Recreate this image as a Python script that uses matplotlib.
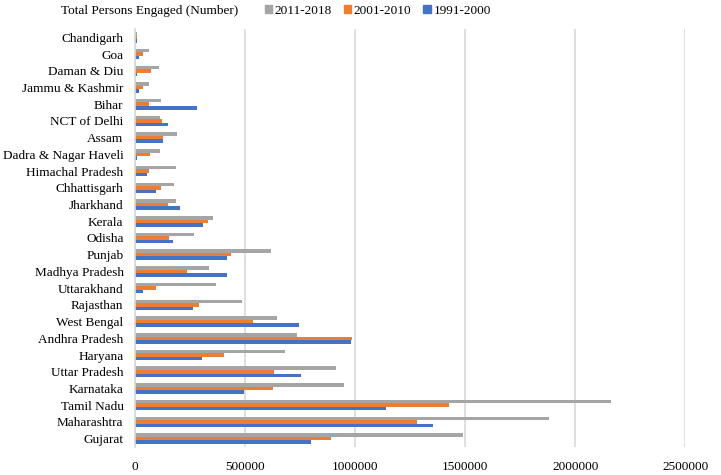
import matplotlib
matplotlib.use("Agg")
import matplotlib.pyplot as plt
import numpy as np
from matplotlib.patches import Patch

states = ["Chandigarh", "Goa", "Daman & Diu", "Jammu & Kashmir", "Bihar", "NCT of Delhi",
          "Assam", "Dadra & Nagar Haveli", "Himachal Pradesh", "Chhattisgarh", "Jharkhand",
          "Kerala", "Odisha", "Punjab", "Madhya Pradesh", "Uttarakhand", "Rajasthan",
          "West Bengal", "Andhra Pradesh", "Haryana", "Uttar Pradesh", "Karnataka",
          "Tamil Nadu", "Maharashtra", "Gujarat"]
# values read top-to-bottom
s2011_2018 = [12000, 64000, 109000, 64000, 120000, 114000, 191000, 117000, 186000, 179000,
              186000, 357000, 268000, 618000, 336000, 370000, 489000, 645000, 738000, 683000,
              916000, 951000, 2163000, 1880000, 1489000]
s2001_2010 = [9000, 36000, 73000, 36000, 64000, 123000, 127000, 68000, 64000, 120000,
              153000, 332000, 157000, 439000, 236000, 95000, 292000, 538000, 988000, 406000,
              633000, 627000, 1425000, 1280000, 892000]
s1991_2000 = [10000, 18000, 10000, 18000, 283000, 150000, 127000, 10000, 56000, 97000,
              204000, 312000, 173000, 421000, 421000, 36000, 265000, 745000, 983000, 306000,
              753000, 497000, 1139000, 1354000, 800000]
xticks = [0, 500000, 1000000, 1500000, 2000000, 2500000]

plt.rcParams['font.family'] = ['Liberation Serif', 'DejaVu Serif']
fs = 9.5

fig = plt.figure(figsize=(7.21, 4.75), dpi=100)
ax = fig.add_axes([134.7 / 721, 1 - 447 / 475, (685.3 - 134.7) / 721, (447 - 29) / 475])

n = len(states)
y = np.arange(n)[::-1]
h = 0.21
c_gray, c_orange, c_blue = "#A5A5A5", "#ED7D31", "#4472C4"
ax.barh(y + h, s2011_2018, height=h, color=c_gray, zorder=3)
ax.barh(y, s2001_2010, height=h, color=c_orange, zorder=3)
ax.barh(y - h, s1991_2000, height=h, color=c_blue, zorder=3)

ax.set_ylim(-0.5, n - 0.5)
ax.set_xlim(0, 2500000)
ax.set_yticks(y)
ax.set_yticklabels(states, fontsize=fs)
ax.set_xticks(xticks)
ax.set_xticklabels([str(v) for v in xticks], fontsize=fs)
ax.tick_params(axis='y', length=0, pad=8)
ax.tick_params(axis='x', length=0, pad=10)
ax.grid(axis='x', color='#D9D9D9', linewidth=1.2, zorder=0)
for sp in ['top', 'right', 'bottom']:
    ax.spines[sp].set_visible(False)
ax.spines['left'].set_color('#D9D9D9')
ax.spines['left'].set_linewidth(1.2)
ax.spines['left'].set_zorder(4)

fig.text(60.7 / 721, 1 - 11 / 475, "Total Persons Engaged (Number)", fontsize=fs,
         va='center', ha='left')
handles = [Patch(color=c_gray, label="2011-2018"),
           Patch(color=c_orange, label="2001-2010"),
           Patch(color=c_blue, label="1991-2000")]
fig.legend(handles=handles, loc='center left', bbox_to_anchor=(265 / 721, 1 - 11 / 475),
           ncol=3, frameon=False, fontsize=fs, handlelength=0.55, handleheight=0.55,
           handletextpad=0.2, columnspacing=0.9, borderpad=0, borderaxespad=0)

fig.savefig("out.png", dpi=100)
